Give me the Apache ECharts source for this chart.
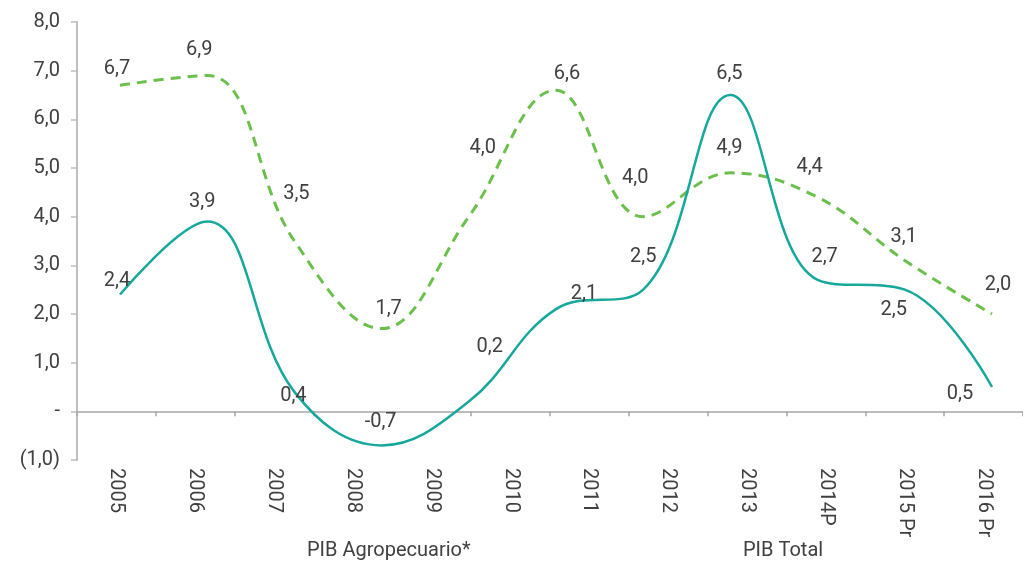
<!DOCTYPE html>
<html><head><meta charset="utf-8">
<script src="https://cdn.jsdelivr.net/npm/echarts@6/dist/echarts.min.js"></script>
<style>html,body{margin:0;padding:0;background:#fff}#c{width:1023px;height:562px}</style>
</head><body><div id="c"></div><script>
// ---- data ----
const xLabels = ['2005','2006','2007','2008','2009','2010','2011','2012','2013','2014P','2015 Pr','2016 Pr'];
const pointSlots = ['1','2','3','4','5','6','7','8','9','10','11'];
const agroValues = [2.4, 3.9, 0.4, -0.7, 0.2, 2.1, 2.5, 6.5, 2.7, 2.5, 0.5];
const totalValues = [6.7, 6.9, 3.5, 1.7, 4.0, 6.6, 4.0, 4.9, 4.4, 3.1, 2.0];
const yTickLabels = ['(1,0)','-','1,0','2,0','3,0','4,0','5,0','6,0','7,0','8,0'];
const seriesNames = ['PIB Agropecuario*', 'PIB Total'];

// ---- label placement (style, kept separate) ----
const agroLabelOffsets = [[-3,-14],[-5,-20],[-1,4],[-1,-23],[21,-55],[28,-15],[0,-33],[-1,-21],[7,-23],[-11,20],[-32,7]];
const totalLabelOffsets = [[-3,-16],[-8,-26],[2,-47],[7,-20],[14,-69],[11,-16],[-8,-39],[-1,-25],[-8,-30],[-1,-23],[6,-29]];

const FONT = 'Roboto';
const TXT = '#404040';
const fmt = v => v.toFixed(1).replace('.', ',');

function build(values, offsets) {
  return values.map((v, i) => ({ value: v, label: { offset: offsets[i] } }));
}

const chart = echarts.init(document.getElementById('c'), null, { renderer: 'canvas' });
chart.setOption({
  animation: false,
  backgroundColor: '#fff',
  textStyle: { fontFamily: FONT },
  grid: [
    { left: 77, top: 22, width: 956, height: 438 },
    { left: 120, top: 22, width: 872, height: 438 }
  ],
  legend: [
    { data: [seriesNames[0]], left: 302, top: 540, padding: 0, icon: 'none', itemWidth: 0, itemHeight: 0,
      selectedMode: false, textStyle: { fontSize: 20, color: TXT, fontFamily: FONT, lineHeight: 22 } },
    { data: [seriesNames[1]], left: 738, top: 540, padding: 0, icon: 'none', itemWidth: 0, itemHeight: 0,
      selectedMode: false, textStyle: { fontSize: 20, color: TXT, fontFamily: FONT, lineHeight: 22 } }
  ],
  xAxis: [
    { gridIndex: 0, type: 'category', data: xLabels, position: 'bottom', boundaryGap: true,
      axisLine: { show: true, onZero: true, lineStyle: { color: '#a6a6a6', width: 1.5 } },
      axisTick: { show: true, length: 5, interval: 0, lineStyle: { color: '#a6a6a6', width: 1.5 } },
      axisLabel: { show: false }, splitLine: { show: false } },
    { gridIndex: 0, type: 'category', data: xLabels, position: 'bottom', boundaryGap: true,
      axisLine: { show: false, onZero: false }, axisTick: { show: false },
      axisLabel: { show: true, interval: 0, rotate: -90, margin: 8, fontSize: 20, color: TXT, fontFamily: FONT },
      splitLine: { show: false } },
    { gridIndex: 1, type: 'category', data: pointSlots, boundaryGap: false, show: false }
  ],
  yAxis: [
    { gridIndex: 0, type: 'value', min: -1, max: 8, interval: 1,
      axisLine: { show: true, lineStyle: { color: '#bfbfbf', width: 2 } },
      axisTick: { show: true, length: 6, lineStyle: { color: '#bfbfbf', width: 1.5 } },
      splitLine: { show: false },
      axisLabel: { margin: 17, fontSize: 20, color: TXT, fontFamily: FONT,
        formatter: v => yTickLabels[Math.round(v) + 1] } },
    { gridIndex: 1, type: 'value', min: -1, max: 8, show: false }
  ],
  series: [
    { name: seriesNames[1], type: 'line', xAxisIndex: 2, yAxisIndex: 1,
      data: build(totalValues, totalLabelOffsets), smooth: 0.4,
      symbol: 'circle', symbolSize: 1, showSymbol: true,
      itemStyle: { color: 'rgba(0,0,0,0)', borderWidth: 0 },
      lineStyle: { color: '#6cbf4d', width: 3, type: [10, 7] },
      label: { show: true, position: 'inside', fontSize: 20, color: TXT, fontFamily: FONT,
        formatter: p => fmt(p.value) },
      z: 2 },
    { name: seriesNames[0], type: 'line', xAxisIndex: 2, yAxisIndex: 1,
      data: build(agroValues, agroLabelOffsets), smooth: 0.4,
      symbol: 'circle', symbolSize: 1, showSymbol: true,
      itemStyle: { color: 'rgba(0,0,0,0)', borderWidth: 0 },
      lineStyle: { color: '#17a89b', width: 2.5 },
      label: { show: true, position: 'inside', fontSize: 20, color: TXT, fontFamily: FONT,
        formatter: p => fmt(p.value) },
      z: 3 }
  ]
});
</script></body></html>
